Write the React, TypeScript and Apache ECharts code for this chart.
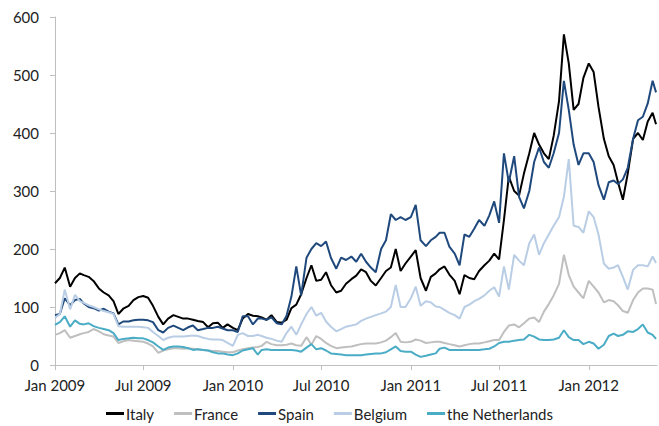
import React, { useEffect, useRef } from "react";
import * as echarts from "echarts";

// Sample dates: 1st, 11th and 21st of each month, Jan 2009 – May 2012 (last sample 18 May 2012)
const firstYear = 2009;
const monthCount = 41;
const sampleDays = [1, 11, 21];
const lastSampleDays = [1, 11, 18];

const seriesNames = ["Italy", "France", "Spain", "Belgium", "the Netherlands"];
const seriesColors = ["#000000", "#bfbfbf", "#1f497d", "#b9cde5", "#4bacc6"];

// values (3 samples per month)
const italy = [
  141, 150, 168, 135, 150, 158, 155, 152, 145, 132, 125, 120,
  110, 88, 97, 102, 112, 117, 119, 116, 102, 83, 70, 80,
  86, 83, 80, 80, 78, 76, 74, 65, 72, 73, 64, 70,
  64, 60, 80, 88, 85, 84, 82, 78, 86, 74, 73, 78,
  98, 104, 122, 150, 172, 145, 147, 160, 138, 125, 128, 140,
  148, 154, 165, 160, 145, 137, 150, 162, 168, 200, 162, 175,
  187, 198, 150, 128, 152, 158, 165, 170, 156, 145, 122, 155,
  150, 148, 162, 172, 180, 192, 182, 250, 325, 300, 292, 330,
  365, 400, 380, 365, 355, 395, 455, 570, 520, 440, 450, 495,
  520, 505, 445, 390, 360, 345, 315, 285, 330, 390, 400, 388,
  420, 435, 415,
];
const france = [
  52, 55, 60, 47, 50, 53, 55, 57, 62, 58, 53, 51,
  49, 38, 41, 43, 42, 41, 40, 37, 32, 21, 25, 27,
  29, 29, 28, 29, 28, 27, 26, 25, 24, 24, 23, 22,
  22, 25, 27, 29, 30, 31, 33, 40, 36, 34, 34, 35,
  37, 34, 33, 48, 35, 50, 45, 38, 33, 29, 30, 31,
  32, 34, 36, 37, 37, 37, 39, 42, 48, 55, 40, 39,
  40, 44, 42, 38, 39, 40, 40, 38, 36, 34, 32, 34,
  36, 37, 37, 39, 41, 43, 43, 57, 68, 70, 65, 72,
  80, 82, 74, 92, 105, 120, 140, 190, 155, 135, 125, 115,
  145, 135, 125, 108, 112, 110, 103, 93, 90, 112, 125, 132,
  132, 130, 105,
];
const spain = [
  86, 88, 115, 103, 112, 114, 106, 100, 98, 94, 97, 92,
  89, 70, 75, 75, 77, 78, 78, 77, 74, 60, 56, 64,
  68, 64, 60, 65, 68, 60, 62, 64, 64, 66, 63, 60,
  60, 57, 84, 84, 70, 80, 80, 78, 82, 72, 70, 85,
  118, 170, 120, 185, 200, 210, 205, 213, 185, 166, 185, 181,
  187, 178, 192, 178, 168, 160, 200, 215, 260, 250, 255, 250,
  255, 276, 215, 205, 215, 221, 228, 228, 204, 192, 172, 225,
  221, 235, 250, 240, 258, 282, 245, 365, 315, 360, 290, 270,
  300, 350, 375, 350, 340, 365, 400, 490, 440, 380, 345, 365,
  365, 350, 310, 285, 315, 318, 312, 320, 340, 390, 422, 428,
  451, 490, 470,
];
const belgium = [
  81, 88, 130, 96, 121, 110, 107, 103, 100, 96, 93, 91,
  88, 67, 66, 66, 66, 66, 65, 64, 57, 50, 43, 47,
  49, 49, 49, 50, 51, 50, 47, 45, 44, 44, 43, 38,
  33, 52, 55, 50, 50, 52, 50, 47, 45, 42, 40, 55,
  66, 52, 70, 88, 100, 85, 90, 75, 66, 58, 62, 66,
  68, 70, 76, 80, 83, 86, 89, 92, 100, 138, 100, 100,
  115, 135, 102, 110, 108, 101, 100, 95, 90, 86, 80, 100,
  104, 110, 114, 120, 128, 134, 118, 170, 130, 190, 180, 172,
  210, 225, 190, 210, 225, 240, 255, 290, 355, 240, 238, 228,
  265, 255, 225, 175, 166, 168, 172, 152, 130, 164, 172, 172,
  170, 187, 176,
];
const netherlands = [
  69, 74, 84, 66, 77, 71, 70, 72, 67, 64, 62, 60,
  55, 43, 45, 46, 47, 46, 46, 43, 39, 32, 26, 30,
  32, 32, 31, 29, 26, 27, 26, 25, 22, 20, 20, 18,
  17, 20, 25, 27, 29, 18, 26, 27, 26, 26, 26, 26,
  26, 25, 23, 30, 36, 27, 29, 25, 20, 19, 18, 17,
  17, 17, 17, 18, 19, 20, 20, 22, 27, 32, 24, 23,
  23, 18, 14, 16, 18, 20, 28, 30, 26, 26, 26, 26,
  26, 26, 26, 27, 28, 32, 38, 40, 40, 42, 43, 44,
  52, 49, 44, 43, 43, 44, 47, 60, 48, 43, 43, 36,
  40, 37, 28, 35, 50, 54, 50, 52, 58, 57, 62, 70,
  56, 52, 45,
];
const seriesValues = [italy, france, spain, belgium, netherlands];

const monthLabels = ["Jan", "Feb", "Mar", "Apr", "May", "Jun", "Jul", "Aug", "Sep", "Oct", "Nov", "Dec"];

function buildDates(): number[] {
  const out: number[] = [];
  for (let m = 0; m < monthCount; m++) {
    const days = m === monthCount - 1 ? lastSampleDays : sampleDays;
    for (const d of days) {
      out.push(new Date(firstYear, m, d).getTime());
    }
  }
  return out;
}

const FONT = "Lato, 'Open Sans', sans-serif";
const DAY = 24 * 3600 * 1000;

export default function App() {
  const ref = useRef<HTMLDivElement>(null);
  useEffect(() => {
    if (!ref.current) return;
    const chart = echarts.init(ref.current, undefined, { renderer: "svg" });
    const dates = buildDates();
    chart.setOption({
      animation: false,
      backgroundColor: "#ffffff",
      grid: { left: 55, right: 2, top: 17, bottom: 61, containLabel: false },
      legend: {
        data: seriesNames,
        top: 401,
        left: "center",
        icon: "rect",
        itemWidth: 18,
        itemHeight: 3,
        itemGap: 20,
        textStyle: { fontFamily: FONT, fontSize: 15, color: "#222222", padding: [0, 0, 0, -3] },
      },
      xAxis: {
        type: "time",
        min: new Date(2009, 0, 1).getTime(),
        max: new Date(2012, 4, 20).getTime(),
        minInterval: 183 * DAY,
        maxInterval: 200 * DAY,
        axisLine: { show: true, lineStyle: { color: "#bfbfbf", width: 1 } },
        axisTick: { show: true, length: 5, lineStyle: { color: "#bfbfbf" } },
        splitLine: { show: false },
        axisLabel: {
          fontFamily: FONT,
          fontSize: 15,
          color: "#222222",
          margin: 12,
          hideOverlap: false,
          formatter: (v: number) => {
            const d = new Date(v);
            return monthLabels[d.getMonth()] + " " + d.getFullYear();
          },
        },
      },
      yAxis: {
        type: "value",
        min: 0,
        max: 600,
        interval: 100,
        axisLine: { show: true, lineStyle: { color: "#bfbfbf", width: 1 } },
        axisTick: { show: true, length: 5, lineStyle: { color: "#bfbfbf" } },
        splitLine: { show: false },
        axisLabel: { fontFamily: FONT, fontSize: 15, color: "#222222", margin: 16 },
      },
      series: seriesNames.map((name, i) => ({
        name,
        type: "line",
        symbol: "none",
        showSymbol: false,
        color: seriesColors[i],
        lineStyle: { color: seriesColors[i], width: 2 },
        data: dates.map((t, j) => [t, seriesValues[i][j]]),
      })),
    });
    return () => chart.dispose();
  }, []);
  return (
    <div
      ref={ref}
      style={{ position: "fixed", left: 0, top: 0, width: 659, height: 426, background: "#fff" }}
    />
  );
}
